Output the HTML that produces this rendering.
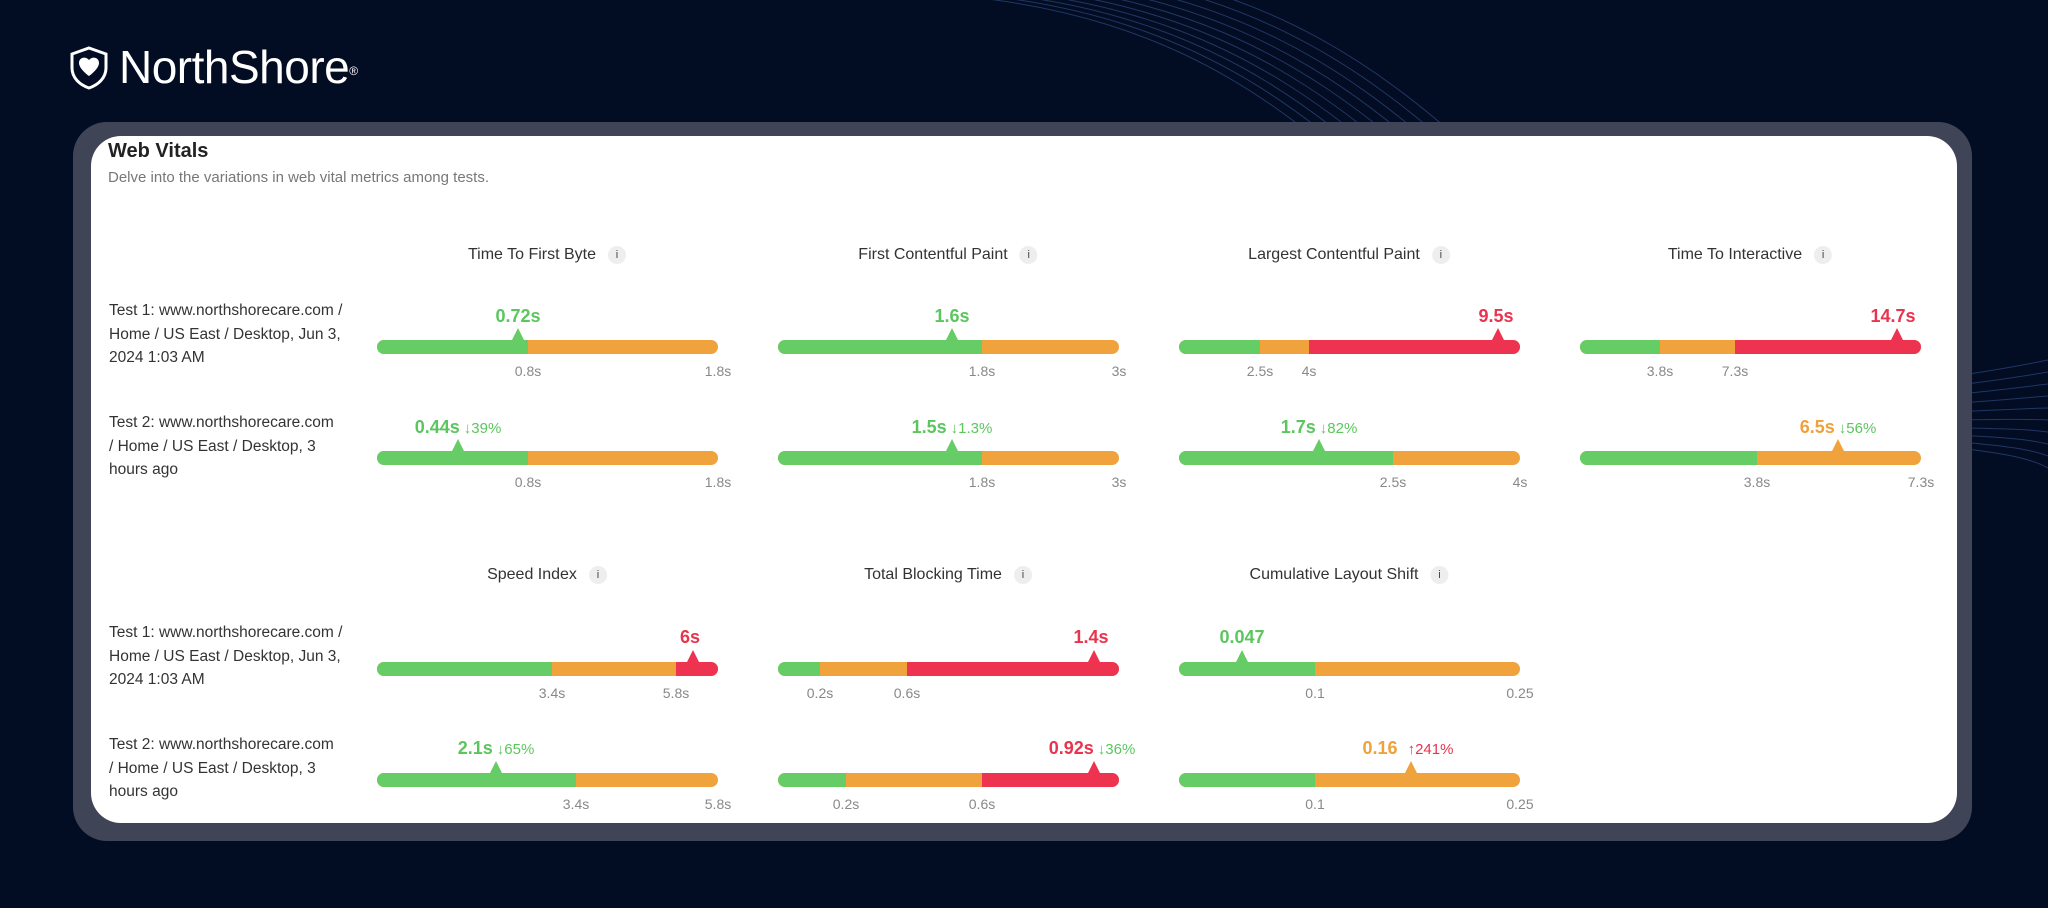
<!DOCTYPE html>
<html><head><meta charset="utf-8"><style>
*{margin:0;padding:0;box-sizing:border-box}
body{width:2048px;height:908px;background:#020c22;position:relative;overflow:hidden;font-family:"Liberation Sans",sans-serif}
.a{position:absolute}
.frame{left:73px;top:122px;width:1899px;height:719px;background:#3f4557;border-radius:34px}
.card{left:91px;top:136px;width:1866px;height:687px;background:#fff;border-radius:30px}
.bar{position:absolute;width:341px;height:14px;border-radius:7px;overflow:hidden;background:#f0a33c}
.bar div{position:absolute;top:0;height:14px}
.g{background:#66cc66}.o{background:#f0a33c}.r{background:#ee3350}
.tri{position:absolute;width:0;height:0;border-left:6px solid transparent;border-right:6px solid transparent;border-bottom:12px solid}
.val{position:absolute;transform:translateX(-50%);white-space:nowrap;font-size:18px;font-weight:bold;line-height:22px}
.val small{font-size:15px;font-weight:normal;margin-left:4px}
.tk{position:absolute;transform:translateX(-50%);font-size:14px;color:#888;line-height:18px}
.hd{position:absolute;transform:translateX(-50%);white-space:nowrap;font-size:16px;color:#333;line-height:20px}
.hd i{display:inline-block;width:18px;height:18px;border-radius:9px;background:#eee;font-style:normal;font-size:11px;text-align:center;line-height:18px;margin-left:12px;color:#444;vertical-align:middle}
.lbl{position:absolute;left:109px;font-size:15.5px;color:#333;line-height:23.5px;white-space:nowrap}
.G{color:#5cc65e}.O{color:#f0a13a}.R{color:#e8344e}
</style></head><body>
<svg class="a" style="left:0;top:0" width="2048" height="908">
<g fill="none" stroke="#3a5a9a" stroke-width="1" opacity="0.55">
<path d="M950 -5 C1250 20 1350 180 1500 300 S1900 390 2048 360"/>
<path d="M980 -5 C1270 25 1370 185 1520 305 S1910 395 2048 372"/>
<path d="M1010 -5 C1290 30 1390 190 1540 310 S1920 400 2048 384"/>
<path d="M1040 -5 C1310 35 1410 195 1560 315 S1930 405 2048 396"/>
<path d="M1070 -5 C1330 40 1430 200 1580 320 S1940 410 2048 408"/>
<path d="M1100 -5 C1350 45 1450 205 1600 325 S1950 415 2048 420"/>
<path d="M1130 -5 C1370 50 1470 210 1620 330 S1960 420 2048 432"/>
<path d="M1160 -5 C1390 55 1490 215 1640 335 S1970 425 2048 444"/>
<path d="M1190 -5 C1410 60 1510 220 1660 340 S1980 430 2048 456"/>
<path d="M1220 -5 C1430 65 1530 225 1680 345 S1990 435 2048 468"/>
</g></svg>
<svg class="a" style="left:68px;top:46px" width="42" height="44" viewBox="0 0 42 44"><path d="M21 2 L38 8 L38 22 C38 32 30 39 21 42 C12 39 4 32 4 22 L4 8 Z" fill="none" stroke="#fff" stroke-width="3"/><path d="M21 14 C18 10 11 11 11 17 C11 23 21 30 21 30 C21 30 31 23 31 17 C31 11 24 10 21 14 Z" fill="#fff"/></svg>
<div class="a" style="left:119px;top:42px;font-size:46px;color:#fff;letter-spacing:-0.5px;line-height:50px">NorthShore<sup style="font-size:12px;vertical-align:top;position:relative;top:4px">®</sup></div>
<div class="a frame"></div>
<div class="a card"></div>
<div class="a" style="left:108px;top:140px;font-size:20px;font-weight:bold;color:#222">Web Vitals</div>
<div class="a" style="left:108px;top:169px;font-size:15px;color:#777">Delve into the variations in web vital metrics among tests.</div>

<div class="hd" style="left:547px;top:245px">Time To First Byte<i>i</i></div>
<div class="hd" style="left:948px;top:245px">First Contentful Paint<i>i</i></div>
<div class="hd" style="left:1349px;top:245px">Largest Contentful Paint<i>i</i></div>
<div class="hd" style="left:1750px;top:245px">Time To Interactive<i>i</i></div>
<div class="hd" style="left:547px;top:565px">Speed Index<i>i</i></div>
<div class="hd" style="left:948px;top:565px">Total Blocking Time<i>i</i></div>
<div class="hd" style="left:1349px;top:565px">Cumulative Layout Shift<i>i</i></div>

<div class="lbl" style="top:299px">Test 1: www.northshorecare.com /<br>Home / US East / Desktop, Jun 3,<br>2024 1:03 AM</div>
<div class="lbl" style="top:411px">Test 2: www.northshorecare.com<br>/ Home / US East / Desktop, 3<br>hours ago</div>
<div class="lbl" style="top:621px">Test 1: www.northshorecare.com /<br>Home / US East / Desktop, Jun 3,<br>2024 1:03 AM</div>
<div class="lbl" style="top:733px">Test 2: www.northshorecare.com<br>/ Home / US East / Desktop, 3<br>hours ago</div>

<div class="bar" style="left:377px;top:340px"><div class="g" style="left:0;width:151px"></div></div>
<div class="tri" style="left:512px;top:328px;color:#66cc66"></div>
<div class="val G" style="left:518px;top:305px">0.72s</div>
<div class="tk" style="left:528px;top:362px">0.8s</div><div class="tk" style="left:718px;top:362px">1.8s</div>

<div class="bar" style="left:778px;top:340px"><div class="g" style="left:0;width:204px"></div></div>
<div class="tri" style="left:946px;top:328px;color:#66cc66"></div>
<div class="val G" style="left:952px;top:305px">1.6s</div>
<div class="tk" style="left:982px;top:362px">1.8s</div><div class="tk" style="left:1119px;top:362px">3s</div>

<div class="bar" style="left:1179px;top:340px"><div class="g" style="left:0;width:81px"></div><div class="r" style="left:130px;width:211px"></div></div>
<div class="tri" style="left:1492px;top:328px;color:#ee3350"></div>
<div class="val R" style="left:1496px;top:305px">9.5s</div>
<div class="tk" style="left:1260px;top:362px">2.5s</div><div class="tk" style="left:1309px;top:362px">4s</div>

<div class="bar" style="left:1580px;top:340px"><div class="g" style="left:0;width:80px"></div><div class="r" style="left:155px;width:186px"></div></div>
<div class="tri" style="left:1891px;top:328px;color:#ee3350"></div>
<div class="val R" style="left:1893px;top:305px">14.7s</div>
<div class="tk" style="left:1660px;top:362px">3.8s</div><div class="tk" style="left:1735px;top:362px">7.3s</div>

<div class="bar" style="left:377px;top:451px"><div class="g" style="left:0;width:151px"></div></div>
<div class="tri" style="left:452px;top:439px;color:#66cc66"></div>
<div class="val G" style="left:458px;top:416px">0.44s<small>↓39%</small></div>
<div class="tk" style="left:528px;top:473px">0.8s</div><div class="tk" style="left:718px;top:473px">1.8s</div>

<div class="bar" style="left:778px;top:451px"><div class="g" style="left:0;width:204px"></div></div>
<div class="tri" style="left:946px;top:439px;color:#66cc66"></div>
<div class="val G" style="left:952px;top:416px">1.5s<small>↓1.3%</small></div>
<div class="tk" style="left:982px;top:473px">1.8s</div><div class="tk" style="left:1119px;top:473px">3s</div>

<div class="bar" style="left:1179px;top:451px"><div class="g" style="left:0;width:214px"></div></div>
<div class="tri" style="left:1313px;top:439px;color:#66cc66"></div>
<div class="val G" style="left:1319px;top:416px">1.7s<small>↓82%</small></div>
<div class="tk" style="left:1393px;top:473px">2.5s</div><div class="tk" style="left:1520px;top:473px">4s</div>

<div class="bar" style="left:1580px;top:451px"><div class="g" style="left:0;width:177px"></div></div>
<div class="tri" style="left:1832px;top:439px;color:#f0a33c"></div>
<div class="val O" style="left:1838px;top:416px">6.5s<small class="G">↓56%</small></div>
<div class="tk" style="left:1757px;top:473px">3.8s</div><div class="tk" style="left:1921px;top:473px">7.3s</div>

<div class="bar" style="left:377px;top:662px"><div class="g" style="left:0;width:175px"></div><div class="r" style="left:299px;width:42px"></div></div>
<div class="tri" style="left:687px;top:650px;color:#ee3350"></div>
<div class="val R" style="left:690px;top:626px">6s</div>
<div class="tk" style="left:552px;top:684px">3.4s</div><div class="tk" style="left:676px;top:684px">5.8s</div>

<div class="bar" style="left:778px;top:662px"><div class="g" style="left:0;width:42px"></div><div class="r" style="left:129px;width:212px"></div></div>
<div class="tri" style="left:1088px;top:650px;color:#ee3350"></div>
<div class="val R" style="left:1091px;top:626px">1.4s</div>
<div class="tk" style="left:820px;top:684px">0.2s</div><div class="tk" style="left:907px;top:684px">0.6s</div>

<div class="bar" style="left:1179px;top:662px"><div class="g" style="left:0;width:136px"></div></div>
<div class="tri" style="left:1236px;top:650px;color:#66cc66"></div>
<div class="val G" style="left:1242px;top:626px">0.047</div>
<div class="tk" style="left:1315px;top:684px">0.1</div><div class="tk" style="left:1520px;top:684px">0.25</div>

<div class="bar" style="left:377px;top:773px"><div class="g" style="left:0;width:199px"></div></div>
<div class="tri" style="left:490px;top:761px;color:#66cc66"></div>
<div class="val G" style="left:496px;top:737px">2.1s<small>↓65%</small></div>
<div class="tk" style="left:576px;top:795px">3.4s</div><div class="tk" style="left:718px;top:795px">5.8s</div>

<div class="bar" style="left:778px;top:773px"><div class="g" style="left:0;width:68px"></div><div class="r" style="left:204px;width:137px"></div></div>
<div class="tri" style="left:1088px;top:761px;color:#ee3350"></div>
<div class="val R" style="left:1092px;top:737px">0.92s<small class="G">↓36%</small></div>
<div class="tk" style="left:846px;top:795px">0.2s</div><div class="tk" style="left:982px;top:795px">0.6s</div>

<div class="bar" style="left:1179px;top:773px"><div class="g" style="left:0;width:136px"></div></div>
<div class="tri" style="left:1405px;top:761px;color:#f0a33c"></div>
<div class="val O" style="left:1408px;top:737px">0.16<small class="R" style="margin-left:10px">↑241%</small></div>
<div class="tk" style="left:1315px;top:795px">0.1</div><div class="tk" style="left:1520px;top:795px">0.25</div>
</body></html>
